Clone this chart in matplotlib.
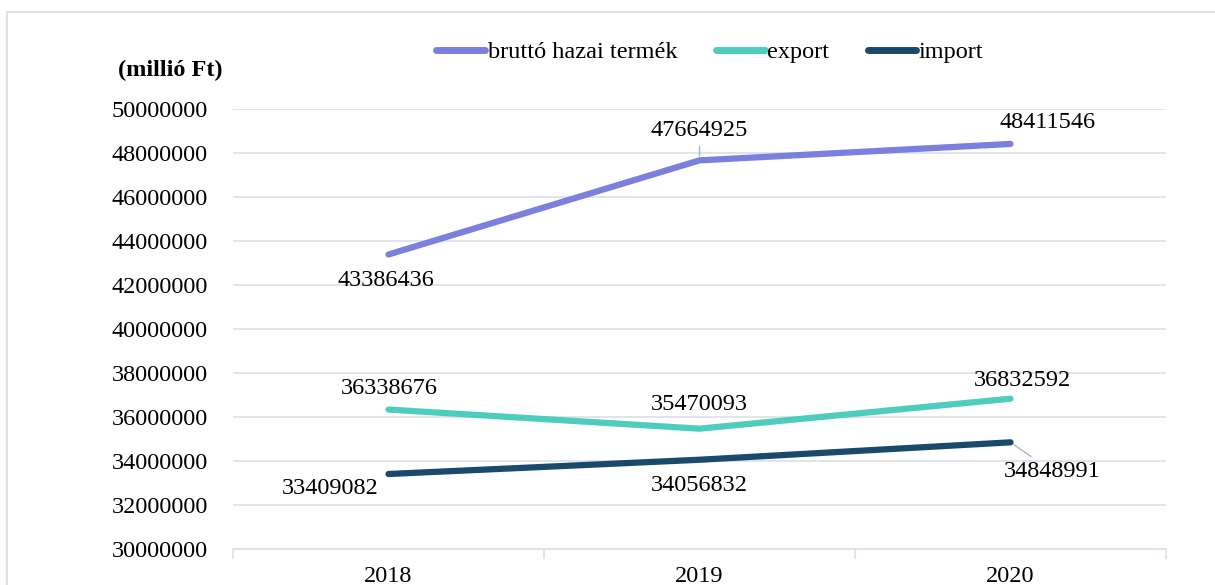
import matplotlib
matplotlib.use("Agg")
import matplotlib.pyplot as plt
from matplotlib.patches import Rectangle

years = ["2018", "2019", "2020"]
gdp = [43386436, 47664925, 48411546]
export = [36338676, 35470093, 36832592]
imports = [33409082, 34056832, 34848991]
series_names = ["bruttó hazai termék", "export", "import"]
colors = ["#7b80de", "#4ccdbd", "#1a4a6b"]

# label offsets in pixels (dx, dy) per series / year
gdp_offsets = [(-3, -26), (0, 30), (37, 21)]
export_offsets = [(1, 21), (0, 24), (12, 18)]
import_offsets = [(-58, -14), (0, -26), (42, -29)]
leaders = {(0, 1), (2, 2)}

plt.rcParams["font.family"] = ["Liberation Serif", "DejaVu Serif"]
fs = 17.5
fig = plt.figure(figsize=(12.15, 5.85), dpi=100)
fig.patches.append(Rectangle((7 / 1215, -0.1), 1.2, 1 - 12 / 585 + 0.1,
                             transform=fig.transFigure, fill=False,
                             edgecolor="#dde2ea", linewidth=1.5))
ax = fig.add_axes([233 / 1215, 1 - 549 / 585, (1166 - 233) / 1215, 440 / 585])

x = list(range(len(years)))
all_series = [gdp, export, imports]
all_offsets = [gdp_offsets, export_offsets, import_offsets]
for i, (vals, name, c) in enumerate(zip(all_series, series_names, colors)):
    ax.plot(x, vals, color=c, lw=4.5, solid_capstyle="round", label=name, zorder=3)
    for j, v in enumerate(vals):
        dx, dy = all_offsets[i][j]
        props = None
        if (i, j) in leaders:
            props = dict(arrowstyle="-", color="#a9b6c8", lw=1, shrinkA=2, shrinkB=3)
        ax.annotate(str(v), (j, v), xytext=(dx, dy), textcoords="offset pixels",
                    ha="center", va="center", fontsize=fs, arrowprops=props)

ax.set_xlim(-0.5, 2.5)
ax.set_ylim(30000000, 50000000)
ax.set_yticks(range(30000000, 50000001, 2000000))
ax.set_yticklabels([str(t) for t in range(30000000, 50000001, 2000000)], fontsize=fs)
ax.tick_params(axis="y", length=0, pad=18)
ax.grid(axis="y", color="#dde2ea", lw=1.3)
ax.set_axisbelow(True)
ax.set_xticks(x)
ax.set_xticklabels(years, fontsize=fs)
ax.set_xticks([-0.5, 0.5, 1.5, 2.5], minor=True)
ax.tick_params(axis="x", which="major", length=0, pad=12)
ax.tick_params(axis="x", which="minor", length=7, color="#dde2ea", width=1.3)
for s in ["top", "right", "left"]:
    ax.spines[s].set_visible(False)
ax.spines["bottom"].set_color("#dde2ea")
ax.spines["bottom"].set_linewidth(1.3)

fig.text(118 / 1215, 1 - 70 / 585, "(millió Ft)", fontsize=fs, fontweight="bold",
         ha="left", va="center")

leg = fig.legend(loc="center", bbox_to_anchor=(710 / 1215, 1 - 52 / 585), ncol=3,
                 frameon=False, fontsize=fs, handlelength=2.0, handletextpad=0.1,
                 columnspacing=1.6)
for h in leg.get_lines():
    h.set_linewidth(5)

fig.savefig("out.png", dpi=100)
